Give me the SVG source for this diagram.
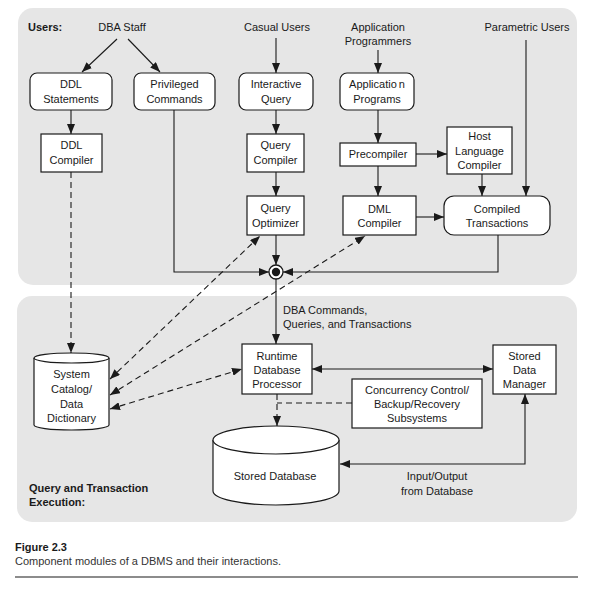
<svg xmlns="http://www.w3.org/2000/svg" width="597" height="589" viewBox="0 0 597 589">
  <style>
    text { font-family: "Liberation Sans", Arial, sans-serif; font-size: 11px; fill: #1a1a1a; }
    .c { text-anchor: middle; }
    .b { font-weight: bold; }
    .panel { fill: #e6e6e6; stroke: none; }
    .box { fill: #ffffff; stroke: #1a1a1a; stroke-width: 1.2; }
    .ln { fill: none; stroke: #1a1a1a; stroke-width: 1.1; }
    .dash { fill: none; stroke: #1a1a1a; stroke-width: 1.1; stroke-dasharray: 6 4; }
  </style>
  <defs>
    <marker id="arrow" viewBox="0 0 10 8" refX="10" refY="4" markerWidth="10" markerHeight="8" markerUnits="userSpaceOnUse" orient="auto-start-reverse">
      <path d="M0,0 L10,4 L0,8 z" fill="#1a1a1a"/>
    </marker>
  </defs>

  <rect width="597" height="589" fill="#ffffff"/>

  <!-- panels -->
  <rect class="panel" x="18" y="8" width="559" height="277" rx="15"/>
  <rect class="panel" x="17" y="296" width="560" height="226" rx="15"/>

  <!-- user labels -->
  <g id="labels">
    <text class="b" x="28" y="31">Users:</text>
    <text class="c" x="122" y="31">DBA Staff</text>
    <text class="c" x="277" y="31">Casual Users</text>
    <text class="c" x="378" y="31">Application</text>
    <text class="c" x="378" y="45">Programmers</text>
    <text class="c" x="527" y="31">Parametric Users</text>
    <text x="283" y="314">DBA Commands,</text>
    <text x="283" y="328">Queries, and Transactions</text>
    <text class="c" x="437" y="480">Input/Output</text>
    <text class="c" x="437" y="495">from Database</text>
    <text class="b" x="29" y="492">Query and Transaction</text>
    <text class="b" x="29" y="506">Execution:</text>
  </g>

  <!-- connectors -->
  <g id="connectors">
    <line class="ln" x1="117" y1="39" x2="82" y2="72" marker-end="url(#arrow)"/>
    <line class="ln" x1="128" y1="39" x2="160" y2="72" marker-end="url(#arrow)"/>
    <line class="ln" x1="276" y1="38" x2="276" y2="73" marker-end="url(#arrow)"/>
    <line class="ln" x1="378" y1="50" x2="378" y2="73" marker-end="url(#arrow)"/>
    <line class="ln" x1="526" y1="40" x2="526" y2="196" marker-end="url(#arrow)"/>
    <line class="ln" x1="71" y1="110" x2="71" y2="134" marker-end="url(#arrow)"/>
    <line class="ln" x1="276" y1="110" x2="276" y2="134" marker-end="url(#arrow)"/>
    <line class="ln" x1="276" y1="172" x2="276" y2="196" marker-end="url(#arrow)"/>
    <line class="ln" x1="276" y1="235" x2="276" y2="265" marker-end="url(#arrow)"/>
    <line class="ln" x1="378" y1="110" x2="378" y2="143" marker-end="url(#arrow)"/>
    <line class="ln" x1="416" y1="154" x2="447" y2="154" marker-end="url(#arrow)"/>
    <line class="ln" x1="378" y1="166" x2="378" y2="196" marker-end="url(#arrow)"/>
    <line class="ln" x1="482" y1="174" x2="482" y2="196" marker-end="url(#arrow)"/>
    <line class="ln" x1="416" y1="217" x2="444" y2="217" marker-end="url(#arrow)"/>
    <polyline class="ln" points="174,110 174,272 269,272" marker-end="url(#arrow)"/>
    <polyline class="ln" points="498,235 498,272 283,272" marker-end="url(#arrow)"/>
    <line class="ln" x1="276" y1="279" x2="276" y2="344" marker-end="url(#arrow)"/>
    <line class="ln" x1="312" y1="369" x2="493" y2="369" marker-start="url(#arrow)" marker-end="url(#arrow)"/>
    <polyline class="ln" points="340,464 525,464 525,394" marker-start="url(#arrow)" marker-end="url(#arrow)"/>

    <line class="dash" x1="71" y1="172" x2="71" y2="353" marker-end="url(#arrow)"/>
    <line class="dash" x1="110" y1="379" x2="260" y2="236" marker-start="url(#arrow)" marker-end="url(#arrow)"/>
    <line class="dash" x1="110" y1="395" x2="365" y2="236" marker-start="url(#arrow)" marker-end="url(#arrow)"/>
    <line class="dash" x1="110" y1="409" x2="242" y2="369" marker-start="url(#arrow)" marker-end="url(#arrow)"/>
    <polyline class="dash" points="277,394 277,426" marker-end="url(#arrow)"/>
    <line class="dash" x1="352" y1="403" x2="277" y2="403"/>
  </g>

  <!-- nodes -->
  <g id="ddl-statements">
    <rect class="box" x="30" y="73" width="82" height="37" rx="7"/>
    <text class="c" x="71" y="88">DDL</text>
    <text class="c" x="71" y="103">Statements</text>
  </g>
  <g id="privileged-commands">
    <rect class="box" x="134" y="73" width="81" height="37" rx="7"/>
    <text class="c" x="174.5" y="88">Privileged</text>
    <text class="c" x="174.5" y="103">Commands</text>
  </g>
  <g id="interactive-query">
    <rect class="box" x="239" y="73" width="74" height="37" rx="7"/>
    <text class="c" x="276" y="88">Interactive</text>
    <text class="c" x="276" y="103">Query</text>
  </g>
  <g id="application-programs">
    <rect class="box" x="340" y="73" width="74" height="37" rx="7"/>
    <text class="c" x="377" y="88">Applicatio<tspan dx="2">n</tspan></text>
    <text class="c" x="377" y="103">Programs</text>
  </g>
  <g id="ddl-compiler">
    <rect class="box" x="41" y="134" width="61" height="38"/>
    <text class="c" x="71.5" y="149">DDL</text>
    <text class="c" x="71.5" y="164">Compiler</text>
  </g>
  <g id="query-compiler">
    <rect class="box" x="247" y="134" width="57" height="38"/>
    <text class="c" x="275.5" y="149">Query</text>
    <text class="c" x="275.5" y="164">Compiler</text>
  </g>
  <g id="query-optimizer">
    <rect class="box" x="247" y="196" width="57" height="39"/>
    <text class="c" x="275.5" y="212">Query</text>
    <text class="c" x="275.5" y="227">Optimizer</text>
  </g>
  <g id="precompiler">
    <rect class="box" x="340" y="143" width="76" height="23"/>
    <text class="c" x="378" y="158">Precompiler</text>
  </g>
  <g id="host-language-compiler">
    <rect class="box" x="447" y="127" width="65" height="47"/>
    <text class="c" x="479.5" y="140">Host</text>
    <text class="c" x="479.5" y="155">Language</text>
    <text class="c" x="479.5" y="169">Compiler</text>
  </g>
  <g id="dml-compiler">
    <rect class="box" x="343" y="196" width="73" height="39"/>
    <text class="c" x="379.5" y="213">DML</text>
    <text class="c" x="379.5" y="227">Compiler</text>
  </g>
  <g id="compiled-transactions">
    <rect class="box" x="444" y="196" width="106" height="39" rx="10"/>
    <text class="c" x="497" y="213">Compiled</text>
    <text class="c" x="497" y="227">Transactions</text>
  </g>
  <g id="junction">
    <circle cx="276" cy="272" r="7" fill="#ffffff" stroke="#1a1a1a" stroke-width="1.3"/>
    <circle cx="276" cy="272" r="4.2" fill="#1a1a1a"/>
  </g>
  <g id="runtime-database-processor">
    <rect class="box" x="242" y="344" width="70" height="50"/>
    <text class="c" x="277" y="360">Runtime</text>
    <text class="c" x="277" y="374">Database</text>
    <text class="c" x="277" y="388">Processor</text>
  </g>
  <g id="stored-data-manager">
    <rect class="box" x="493" y="345" width="63" height="49"/>
    <text class="c" x="524.5" y="360">Stored</text>
    <text class="c" x="524.5" y="374">Data</text>
    <text class="c" x="524.5" y="388">Manager</text>
  </g>
  <g id="concurrency-control">
    <rect class="box" x="352" y="379" width="130" height="49"/>
    <text class="c" x="417" y="394">Concurrency Control/</text>
    <text class="c" x="417" y="408">Backup/Recovery</text>
    <text class="c" x="417" y="422">Subsystems</text>
  </g>
  <g id="system-catalog">
    <path class="box" d="M34,358 L34,425 A37.5,5 0 0 0 109,425 L109,358"/>
    <ellipse class="box" cx="71.5" cy="358" rx="37.5" ry="5"/>
    <text class="c" x="71.5" y="378">System</text>
    <text class="c" x="71.5" y="393">Catalog/</text>
    <text class="c" x="71.5" y="408">Data</text>
    <text class="c" x="71.5" y="422">Dictionary</text>
  </g>
  <g id="stored-database">
    <path class="box" d="M213,440 L213,491 A63,14 0 0 0 339,491 L339,440"/>
    <ellipse class="box" cx="276" cy="440" rx="63" ry="14"/>
    <text class="c" x="275" y="480">Stored Database</text>
  </g>

  <!-- caption -->
  <text class="b" x="15" y="551">Figure 2.3</text>
  <text x="15" y="565" style="fill:#333333">Component modules of a DBMS and their interactions.</text>
  <line x1="15" y1="577" x2="578" y2="577" stroke="#1a1a1a" stroke-width="1.2"/>
</svg>
